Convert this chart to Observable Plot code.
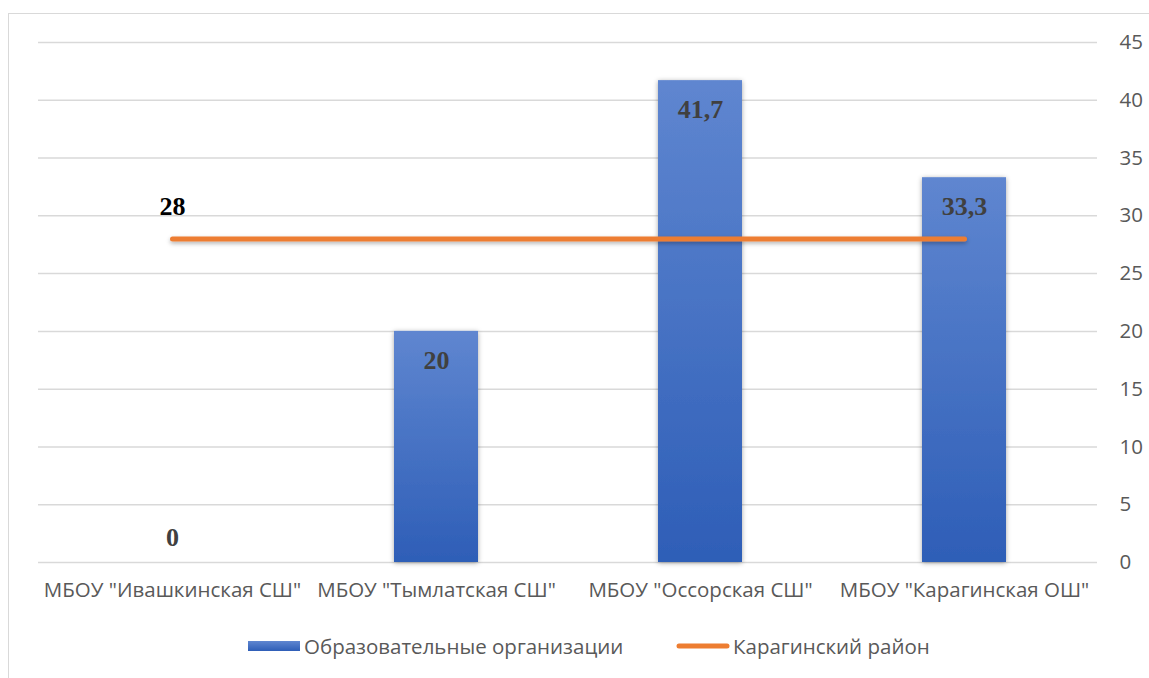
<!DOCTYPE html>
<html>
<head>
<meta charset="utf-8">
<script src="https://cdn.jsdelivr.net/npm/d3@7"></script>
<script src="https://cdn.jsdelivr.net/npm/@observablehq/plot@0.6"></script>
<style>
  html, body { margin: 0; padding: 0; background: #fff; width: 1149px; height: 678px; overflow: hidden; position: relative; }
  #frame { position: absolute; left: 8px; top: 13px; width: 1160px; height: 700px; border: 1.5px solid #d9d9d9; box-sizing: border-box; }
  #chart { position: absolute; left: 0; top: 0; }
  #legend { position: absolute; left: 0; top: 632px; width: 1149px; height: 28px; font-family: "Open Sans", sans-serif; font-size: 20.5px; color: #595959; }
  .item { position: absolute; top: 0; display: flex; align-items: center; height: 28px; white-space: nowrap; }
  .item svg { display: block; }
</style>
</head>
<body>
<div id="frame"></div>
<div id="chart"></div>
<div id="legend">
  <div class="item" id="leg1" style="left:248px"><svg width="56" height="12"><defs><linearGradient id="lg" x1="0" y1="0" x2="0" y2="1"><stop offset="0" stop-color="#5F86D0"/><stop offset="1" stop-color="#2E5EB7"/></linearGradient></defs><rect x="0" y="1" width="52" height="10" fill="url(#lg)"/></svg><span id="t1"></span></div>
  <div class="item" id="leg2" style="left:676px"><svg width="57" height="12"><line x1="3" y1="6" x2="51" y2="6" stroke="#ED7D31" stroke-width="5" stroke-linecap="round"/></svg><span id="t2"></span></div>
</div>
<script>
const categories = ['МБОУ "Ивашкинская СШ"', 'МБОУ "Тымлатская СШ"', 'МБОУ "Оссорская СШ"', 'МБОУ "Карагинская ОШ"'];
const orgValues = [0, 20, 41.7, 33.3];
const districtValues = [28, 28, 28, 28];
const yTicks = [0, 5, 10, 15, 20, 25, 30, 35, 40, 45];
const seriesNames = ["Образовательные организации", "Карагинский район"];

const fmt = v => String(v).replace(".", ",");
const bars = categories.map((c, i) => ({cat: c, val: orgValues[i]}));
const line = categories.map((c, i) => ({cat: c, val: districtValues[i]}));

document.getElementById("t1").textContent = seriesNames[0];
document.getElementById("t2").textContent = seriesNames[1];

const W = 1149, H = 620;
const chart = Plot.plot({
  width: W,
  height: H,
  marginLeft: 38,
  marginRight: 52,
  marginTop: 42,
  marginBottom: 58,
  style: {background: "transparent", fontFamily: "'Open Sans', sans-serif", overflow: "visible"},
  x: {type: "band", domain: categories, padding: 0, label: null},
  y: {domain: [0, 45], label: null},
  marks: [
    Plot.ruleY(yTicks, {stroke: "#d9d9d9", strokeWidth: 1.5}),
    Plot.axisY(yTicks, {anchor: "right", tickSize: 0, tickPadding: 22, fontSize: 20.5, fill: "#595959", textAnchor: "start", label: null}),
    Plot.axisX({tickSize: 0, tickPadding: 20, fontSize: 20.5, fill: "#595959", label: null}),
    Plot.barY(bars.filter(d => d.val > 0), {x: "cat", y: "val", fill: "url(#barGrad)", insetLeft: 90, insetRight: 90}),
    Plot.lineY(line, {x: "cat", y: "val", stroke: "#ED7D31", strokeWidth: 5, strokeLinecap: "round"}),
    Plot.text(bars.filter(d => d.val > 0), {x: "cat", y: "val", text: d => fmt(d.val), dy: 29, fontSize: 26, fontWeight: "bold", fontFamily: "'Liberation Serif', serif", fill: "#404040"}),
    Plot.text(bars.filter(d => d.val === 0), {x: "cat", y: "val", text: d => fmt(d.val), dy: -25, fontSize: 26, fontWeight: "bold", fontFamily: "'Liberation Serif', serif", fill: "#404040"}),
    Plot.text(line.slice(0, 1), {x: "cat", y: "val", text: d => fmt(d.val), dy: -32, fontSize: 26, fontWeight: "bold", fontFamily: "'Liberation Serif', serif", fill: "#000"})
  ]
});
chart.insertAdjacentHTML("afterbegin", `<defs>
  <linearGradient id="barGrad" x1="0" y1="0" x2="0" y2="1">
    <stop offset="0" stop-color="#5F86D0"/>
    <stop offset="1" stop-color="#2E5EB7"/>
  </linearGradient>
  <filter id="shadow" x="-20%" y="-5%" width="140%" height="110%">
    <feDropShadow dx="0" dy="1" stdDeviation="2.5" flood-color="#000" flood-opacity="0.35"/>
  </filter>
  <filter id="lshadow" filterUnits="userSpaceOnUse" x="0" y="0" width="${W}" height="${H}">
    <feDropShadow dx="0" dy="2" stdDeviation="2" flood-color="#000" flood-opacity="0.3"/>
  </filter>
</defs>`);
chart.querySelectorAll("g[aria-label='bar'] rect").forEach(r => r.setAttribute("filter", "url(#shadow)"));
chart.querySelectorAll("g[aria-label='line'] path").forEach(p => p.setAttribute("filter", "url(#lshadow)"));
document.getElementById("chart").appendChild(chart);
</script>
</body>
</html>
